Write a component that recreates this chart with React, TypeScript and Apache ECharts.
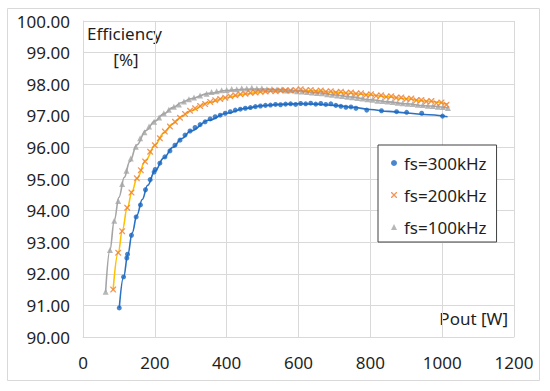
import React, { useEffect, useRef } from "react";
import * as echarts from "echarts";

const xTicks = [0, 200, 400, 600, 800, 1000, 1200];
const yTicks = [90, 91, 92, 93, 94, 95, 96, 97, 98, 99, 100];
const seriesNames = ["fs=300kHz", "fs=200kHz", "fs=100kHz"];

const data300: [number, number][] = [
  [101, 90.92], [113, 91.9], [122, 92.5], [124, 92.62], [135, 93.22], [148, 93.8], [160, 94.18],
  [174, 94.66], [187, 94.98], [198, 95.22], [201, 95.3], [214, 95.5], [228, 95.7], [242, 95.89],
  [256, 96.07], [270, 96.23], [284, 96.39], [298, 96.52], [312, 96.63], [326, 96.72], [340, 96.81],
  [354, 96.9], [368, 96.97], [382, 97.02], [396, 97.08], [410, 97.13], [424, 97.18], [438, 97.21],
  [452, 97.24], [466, 97.26], [480, 97.29], [494, 97.31], [508, 97.33], [522, 97.34], [536, 97.36],
  [550, 97.35], [564, 97.37], [578, 97.38], [592, 97.36], [606, 97.39], [620, 97.38], [634, 97.4],
  [648, 97.37], [662, 97.39], [676, 97.36], [690, 97.38], [704, 97.33], [718, 97.3], [732, 97.27],
  [746, 97.28], [760, 97.24], [790, 97.18], [831, 97.16], [873, 97.13], [901, 97.11], [943, 97.08],
  [1001, 96.99],
];

const data200: [number, number][] = [
  [84, 91.5], [98, 92.67], [109, 93.35], [123, 94.09], [135, 94.57], [150, 95.02], [161, 95.28],
  [173, 95.55], [187, 95.86], [200, 96.07], [214, 96.29], [228, 96.5], [242, 96.66], [256, 96.81],
  [270, 96.94], [284, 97.06], [298, 97.16], [312, 97.24], [326, 97.31], [340, 97.37], [354, 97.44],
  [368, 97.49], [382, 97.53], [396, 97.57], [410, 97.62], [424, 97.65], [438, 97.68], [452, 97.7],
  [466, 97.73], [480, 97.74], [494, 97.76], [508, 97.77], [522, 97.79], [536, 97.78], [550, 97.8],
  [564, 97.81], [578, 97.8], [592, 97.82], [606, 97.84], [620, 97.8], [634, 97.82], [648, 97.78],
  [662, 97.8], [676, 97.76], [690, 97.78], [704, 97.74], [718, 97.76], [732, 97.72], [746, 97.74],
  [760, 97.7], [774, 97.71], [788, 97.66], [802, 97.68], [816, 97.63], [830, 97.65], [844, 97.6],
  [858, 97.62], [872, 97.57], [886, 97.58], [900, 97.53], [914, 97.55], [928, 97.49], [942, 97.5],
  [956, 97.45], [970, 97.47], [984, 97.4], [998, 97.42], [1012, 97.35],
];

const data100: [number, number][] = [
  [63, 91.43], [75, 92.75], [87, 93.68], [98, 94.3], [109, 94.84], [121, 95.26], [133, 95.65],
  [147, 96.02], [159, 96.29], [171, 96.48], [184, 96.66], [198, 96.81], [212, 96.95], [225, 97.08],
  [239, 97.19], [253, 97.29], [267, 97.36], [281, 97.45], [295, 97.52], [309, 97.58], [326, 97.64],
  [344, 97.7], [358, 97.75], [372, 97.78], [386, 97.81], [400, 97.82], [414, 97.85], [428, 97.84],
  [442, 97.87], [456, 97.86], [470, 97.89], [484, 97.86], [498, 97.87], [512, 97.84], [526, 97.85],
  [540, 97.83], [554, 97.84], [568, 97.8], [582, 97.81], [596, 97.78], [610, 97.77], [624, 97.75],
  [638, 97.74], [652, 97.72], [666, 97.71], [680, 97.68], [694, 97.67], [708, 97.64], [722, 97.63],
  [736, 97.6], [750, 97.59], [764, 97.56], [778, 97.55], [792, 97.52], [806, 97.51], [820, 97.48],
  [834, 97.47], [848, 97.45], [862, 97.44], [876, 97.41], [890, 97.4], [904, 97.38], [918, 97.37],
  [932, 97.35], [946, 97.34], [960, 97.32], [974, 97.31], [988, 97.29], [1002, 97.28], [1016, 97.25],
];

const fit300: [number, number][] = [
  [101, 90.92], [113, 91.9], [125, 92.62], [137, 93.3], [150, 93.85], [165, 94.35], [180, 94.8],
  [200, 95.25], [225, 95.67], [250, 96.0], [275, 96.28], [300, 96.52], [350, 96.86], [400, 97.08],
  [450, 97.23], [500, 97.32], [550, 97.36], [600, 97.38], [650, 97.37], [700, 97.33], [750, 97.27],
  [800, 97.2], [850, 97.14], [900, 97.09], [950, 97.04], [1015, 96.97],
];

const fit200: [number, number][] = [
  [84, 91.5], [98, 92.67], [110, 93.4], [123, 94.08], [137, 94.62], [150, 95.02], [175, 95.6],
  [200, 96.07], [225, 96.46], [250, 96.75], [275, 96.98], [300, 97.16], [350, 97.42], [400, 97.58],
  [450, 97.69], [500, 97.76], [550, 97.79], [600, 97.8], [650, 97.79], [700, 97.75], [750, 97.71],
  [800, 97.66], [850, 97.6], [900, 97.54], [950, 97.47], [1015, 97.37],
];

const fit100: [number, number][] = [
  [63, 91.43], [75, 92.75], [87, 93.68], [100, 94.42], [115, 95.05], [130, 95.55], [150, 96.08],
  [175, 96.53], [200, 96.83], [225, 97.06], [250, 97.26], [275, 97.42], [300, 97.54], [350, 97.71],
  [400, 97.8], [450, 97.84], [500, 97.85], [550, 97.83], [600, 97.79], [650, 97.73], [700, 97.66],
  [750, 97.59], [800, 97.51], [850, 97.44], [900, 97.38], [950, 97.32], [1016, 97.25],
];

const FONT = "Noto Sans";
const TXT = "#1f1f1f";
const GRID = "#d9d9d9";
const BLUE = "#1c68c0";
const BLUE_LINE = "#2a72c4";
const ORANGE = "#ed7d31";
const GOLD = "#ffc000";
const GRAY = "#a5a5a5";
const CROSS =
  "path://M0,0 L1.6,0 L5,3.4 L8.4,0 L10,0 L10,1.6 L6.6,5 L10,8.4 L10,10 L8.4,10 L5,6.6 L1.6,10 L0,10 L0,8.4 L3.4,5 L0,1.6 Z";

export default function App() {
  const ref = useRef<HTMLDivElement>(null);

  useEffect(() => {
    if (!ref.current) return;
    const chart = echarts.init(ref.current, undefined, { renderer: "svg" });

    const lineSeries = (name: string, data: [number, number][], color: string) => ({
      name,
      type: "line",
      data,
      showSymbol: false,
      smooth: 0.4,
      smoothMonotone: "x",
      lineStyle: { color, width: 1.6 },
      itemStyle: { color },
      z: 2,
      silent: true,
    });

    chart.setOption({
      animation: false,
      backgroundColor: "#ffffff",
      textStyle: { fontFamily: FONT },
      grid: { left: 83, right: 36, top: 21, bottom: 54, containLabel: false },
      xAxis: {
        type: "value",
        min: xTicks[0],
        max: xTicks[xTicks.length - 1],
        interval: 200,
        axisLine: { show: true, lineStyle: { color: GRID, width: 1 } },
        axisTick: { show: false },
        splitLine: { show: true, lineStyle: { color: GRID, width: 1 } },
        axisLabel: {
          color: TXT,
          fontSize: 17,
          fontFamily: FONT,
          margin: 17,
          formatter: (v: number) => String(v),
        },
      },
      yAxis: {
        type: "value",
        min: yTicks[0],
        max: yTicks[yTicks.length - 1],
        interval: 1,
        axisLine: { show: true, lineStyle: { color: GRID, width: 1 } },
        axisTick: { show: false },
        splitLine: { show: true, lineStyle: { color: GRID, width: 1 } },
        axisLabel: {
          color: TXT,
          fontSize: 17,
          fontFamily: FONT,
          margin: 13,
          formatter: (v: number) => v.toFixed(2),
        },
      },
      legend: {
        data: [
          { name: seriesNames[0], icon: "circle", itemStyle: { color: BLUE } },
          { name: seriesNames[1], icon: CROSS, itemStyle: { color: ORANGE } },
          { name: seriesNames[2], icon: "triangle", itemStyle: { color: GRAY } },
        ],
        orient: "vertical",
        left: 378,
        top: 145,
        width: 120,
        backgroundColor: "#ffffff",
        borderColor: "#404040",
        borderWidth: 1,
        borderRadius: 0,
        padding: [8, 10, 5, 13],
        itemGap: 12,
        itemWidth: 6,
        itemHeight: 6,
        textStyle: { color: TXT, fontSize: 17, fontFamily: FONT, lineHeight: 20, padding: [0, 0, 0, 2] },
      },
      graphic: [
        {
          type: "rect",
          shape: { x: 7.5, y: 8.5, width: 532, height: 372 },
          style: { fill: "none", stroke: GRID, lineWidth: 1 },
          silent: true,
        },
        {
          type: "text",
          x: 87,
          y: 33,
          style: { text: "Efficiency", font: `17px "${FONT}"`, fill: TXT, textVerticalAlign: "middle" },
        },
        {
          type: "text",
          x: 126,
          y: 59,
          style: { text: "[%]", font: `17px "${FONT}"`, fill: TXT, textAlign: "center", textVerticalAlign: "middle" },
        },
        {
          type: "text",
          x: 508,
          y: 318,
          style: { text: "Pout [W]", font: `17px "${FONT}"`, fill: TXT, textAlign: "right", textVerticalAlign: "middle" },
        },
      ],
      series: [
        lineSeries("fit300", fit300, BLUE_LINE),
        lineSeries("fit200", fit200, GOLD),
        lineSeries("fit100", fit100, GRAY),
        {
          name: seriesNames[2],
          type: "scatter",
          data: data100,
          symbol: "triangle",
          symbolSize: 6,
          itemStyle: { color: GRAY },
          z: 3,
        },
        {
          name: seriesNames[1],
          type: "scatter",
          data: data200,
          symbol: CROSS,
          symbolSize: 6,
          itemStyle: { color: ORANGE },
          z: 4,
        },
        {
          name: seriesNames[0],
          type: "scatter",
          data: data300,
          symbol: "circle",
          symbolSize: 5,
          itemStyle: { color: BLUE },
          z: 5,
        },
      ],
    });

    return () => chart.dispose();
  }, []);

  return (
    <div
      ref={ref}
      style={{ position: "fixed", left: 0, top: 0, width: 550, height: 391, background: "#fff" }}
    />
  );
}
